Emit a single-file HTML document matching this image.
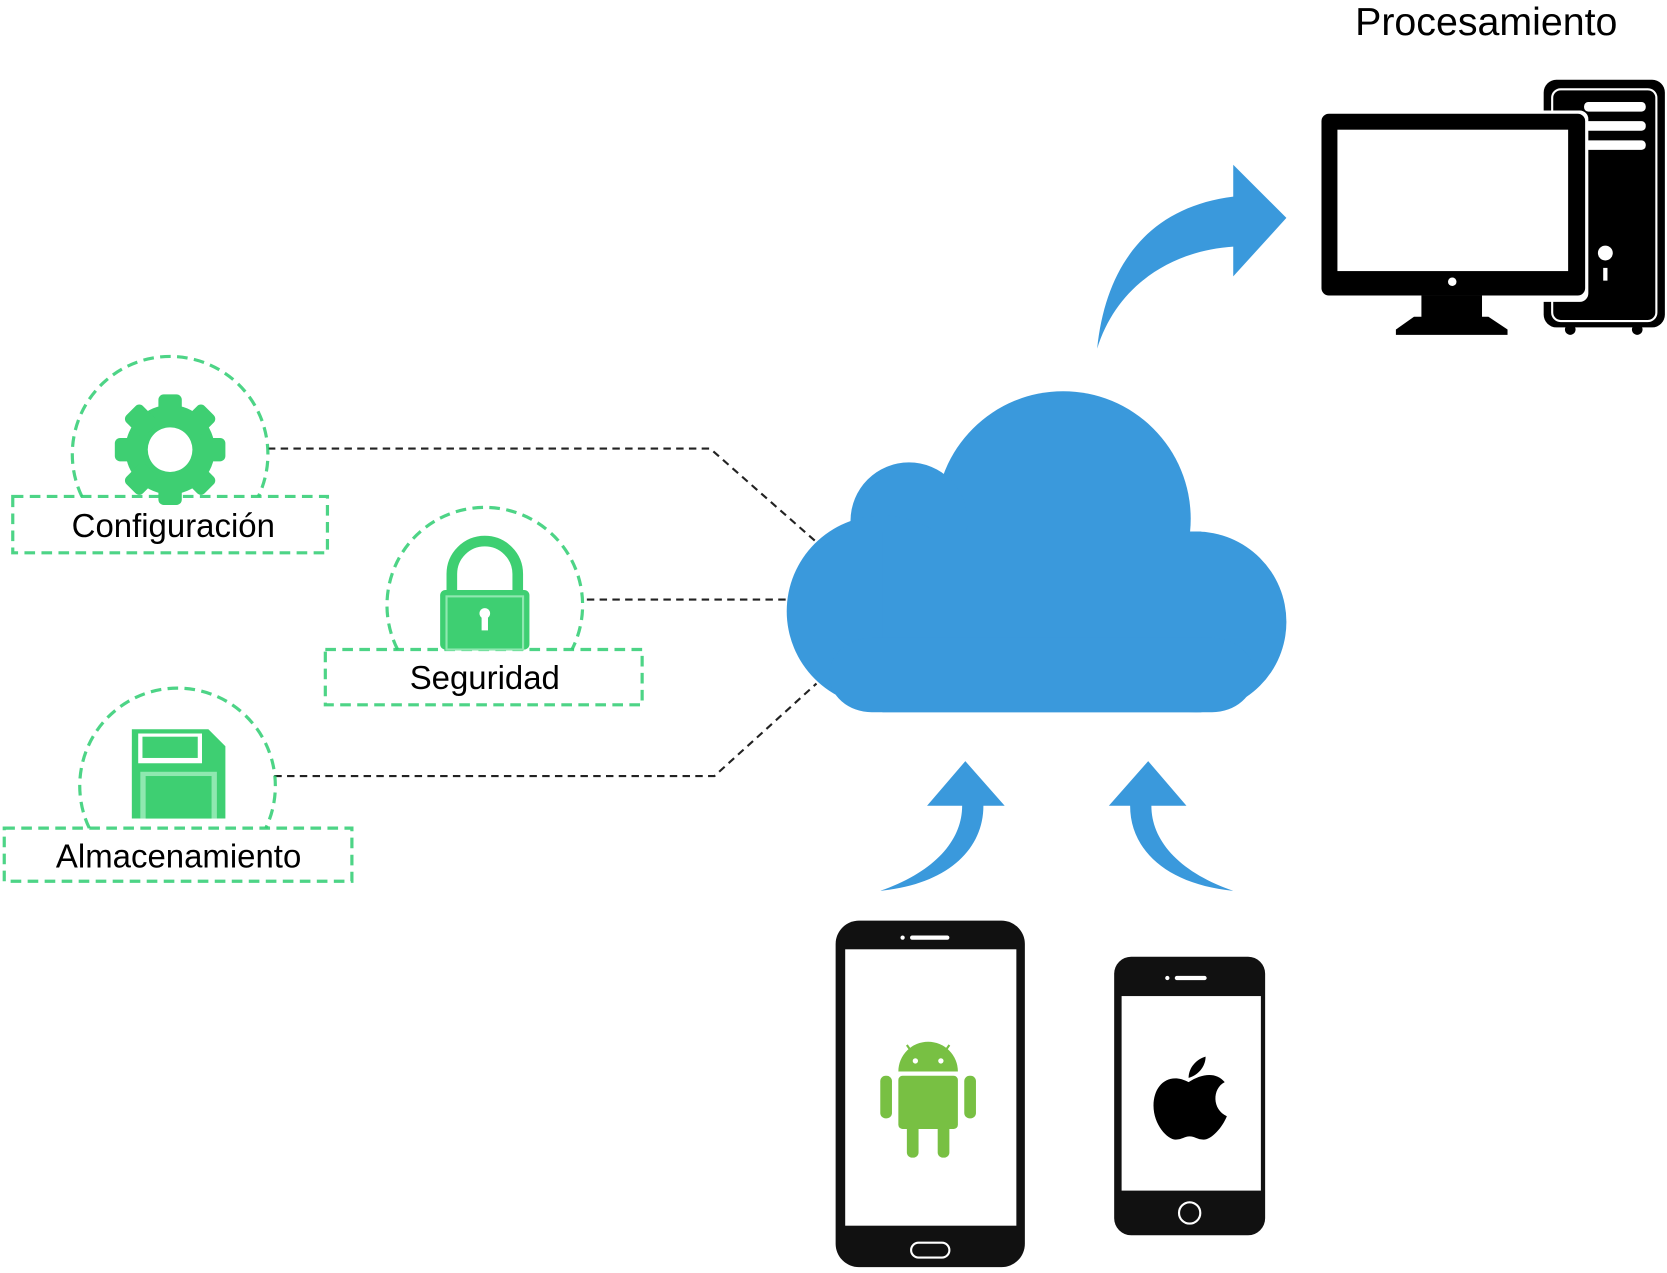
<!DOCTYPE html>
<html><head><meta charset="utf-8"><style>
html,body{margin:0;padding:0;background:#fff;width:1667px;height:1273px;overflow:hidden}
svg{display:block}
text{font-family:"Liberation Sans",sans-serif;fill:#000}
</style></head><body>
<svg width="1667" height="1273" viewBox="0 0 1568 1197.5" preserveAspectRatio="none" xmlns="http://www.w3.org/2000/svg">
<text x="1398" y="33" font-size="37" text-anchor="middle">Procesamiento</text>
<!-- computer -->
<rect x="1452" y="75" width="114" height="233" rx="12" fill="#000"/>
<rect x="1460" y="84" width="98" height="218" rx="8" fill="none" stroke="#fff" stroke-width="2"/>
<rect x="1490" y="96" width="58" height="9" rx="4" fill="#fff"/>
<rect x="1490" y="114" width="58" height="9" rx="4" fill="#fff"/>
<rect x="1490" y="132" width="58" height="9" rx="4" fill="#fff"/>
<circle cx="1510" cy="238" r="7" fill="#fff"/>
<rect x="1508" y="252" width="4" height="12" fill="#fff"/>
<circle cx="1477" cy="310" r="5" fill="#000"/><circle cx="1540" cy="310" r="5" fill="#000"/>
<rect x="1240" y="104" width="254" height="180" rx="8" fill="#fff"/>
<rect x="1243" y="107" width="248" height="171" rx="7" fill="#000"/>
<rect x="1258" y="122" width="217" height="133" fill="#fff"/>
<circle cx="1366" cy="265" r="4" fill="#fff"/>
<rect x="1337" y="278" width="57" height="22" fill="#000"/>
<path d="M1330 298 H1400 L1418 310 V315 H1313 V310 Z" fill="#000"/>
<!-- top arrow -->
<path d="M1032 328 C1040 250 1080 195 1160 185 L1160 155 L1210 205 L1160 260 L1160 232 C1100 236 1050 270 1032 328 Z" fill="#3a99dc"/>
<!-- cloud -->
<g fill="#3a99dc">
<circle cx="1000" cy="488" r="120"/>
<circle cx="855" cy="490" r="55"/>
<circle cx="830" cy="575" r="90"/>
<circle cx="1125" cy="585" r="85"/>
<rect x="830" y="500" width="300" height="170"/>
<rect x="780" y="600" width="400" height="70" rx="40"/>
</g>
<!-- dashed connectors -->
<g fill="none" stroke="#222" stroke-width="2" stroke-dasharray="7,5">
<path d="M252 422 H668 L768 510"/>
<path d="M552 564 H740"/>
<path d="M258 730 H672 L768 643"/>
</g>
<!-- green nodes -->
<g fill="none" stroke="#2ecc71" stroke-opacity="0.85" stroke-width="3" stroke-dasharray="10,6">
<path d="M77 467 A92 92 0 1 1 243 467"/>
<rect x="12" y="467" width="296" height="53"/>
<path d="M374 611 A92 92 0 1 1 538 611"/>
<rect x="306" y="611" width="298" height="52"/>
<path d="M84 779 A92 92 0 1 1 250 779"/>
<rect x="4" y="779" width="327" height="50"/>
</g>
<!-- gear -->
<g fill="#3ecf72">
<circle cx="160" cy="423" r="42"/>
<g id="t"><rect x="149" y="371" width="22" height="26" rx="5"/></g>
<use href="#t" transform="rotate(45 160 423)"/><use href="#t" transform="rotate(90 160 423)"/>
<use href="#t" transform="rotate(135 160 423)"/><use href="#t" transform="rotate(180 160 423)"/>
<use href="#t" transform="rotate(225 160 423)"/><use href="#t" transform="rotate(270 160 423)"/>
<use href="#t" transform="rotate(315 160 423)"/>
</g>
<circle cx="160" cy="423" r="21" fill="#fff"/>
<!-- lock -->
<path d="M425 560 V540 A31 31 0 0 1 487 540 V560" fill="none" stroke="#3ecf72" stroke-width="10"/>
<rect x="414" y="555" width="84" height="56" rx="5" fill="#3ecf72"/>
<rect x="420" y="561" width="72" height="50" fill="none" stroke="#8fe8b0" stroke-width="2"/>
<circle cx="456" cy="577" r="5" fill="#fff"/><rect x="453" y="578" width="6" height="15" fill="#fff"/>
<!-- floppy -->
<path d="M124 686 H196 L212 702 V770 H124 Z" fill="#3ecf72"/>
<rect x="130" y="690" width="60" height="28" fill="#fff"/>
<rect x="134" y="693" width="52" height="20" fill="#3ecf72"/>
<rect x="132" y="726" width="72" height="44" fill="#8fe8b0"/>
<rect x="137" y="730" width="62" height="40" fill="#3ecf72"/>
<text x="163" y="505" font-size="31" text-anchor="middle">Configuración</text>
<text x="456" y="648" font-size="31" text-anchor="middle">Seguridad</text>
<text x="168" y="816" font-size="31" text-anchor="middle">Almacenamiento</text>
<!-- up arrows -->
<path d="M828 838 C880 820 905 790 905 758 L872 758 L908 716 L945 758 L925 758 C925 800 890 832 828 838 Z" fill="#3a99dc"/>
<path d="M1160 838 C1108 820 1083 790 1083 758 L1116 758 L1080 716 L1043 758 L1063 758 C1063 800 1098 832 1160 838 Z" fill="#3a99dc"/>
<!-- android phone -->
<rect x="786" y="866" width="178" height="326" rx="22" fill="#111"/>
<rect x="795" y="893" width="161" height="260" fill="#fff"/>
<rect x="856" y="880" width="37" height="4" rx="2" fill="#fff"/><circle cx="849" cy="882" r="2" fill="#fff"/>
<rect x="857" y="1169" width="36" height="14" rx="7" fill="none" stroke="#fff" stroke-width="2"/>
<g fill="#78c043">
<path d="M845 1008 A28 28 0 0 1 901 1008 Z"/>
<rect x="845" y="1012" width="56" height="50" rx="4"/>
<rect x="828" y="1012" width="11" height="40" rx="5"/><rect x="907" y="1012" width="11" height="40" rx="5"/>
<rect x="853" y="1055" width="11" height="34" rx="5"/><rect x="882" y="1055" width="11" height="34" rx="5"/>
<path d="M853 983 L860 993 M893 983 L886 993" stroke="#78c043" stroke-width="2"/>
</g>
<circle cx="861" cy="998" r="2.5" fill="#fff"/><circle cx="885" cy="998" r="2.5" fill="#fff"/>
<!-- iphone -->
<rect x="1048" y="900" width="142" height="262" rx="16" fill="#111"/>
<rect x="1055" y="937" width="131" height="183" fill="#fff"/>
<rect x="1105" y="918" width="30" height="4" rx="2" fill="#fff"/><circle cx="1098" cy="920" r="2" fill="#fff"/>
<circle cx="1119" cy="1141" r="10" fill="none" stroke="#fff" stroke-width="2"/>
<path d="M1118 1018 C1100 1008 1085 1020 1085 1040 C1085 1058 1098 1072 1106 1072 C1112 1072 1114 1069 1119 1069 C1124 1069 1126 1072 1132 1072 C1140 1072 1150 1060 1154 1050 C1140 1044 1140 1024 1152 1018 C1144 1008 1130 1010 1118 1018 Z" fill="#000"/>
<path d="M1118 1014 C1118 1004 1126 996 1134 994 C1134 1004 1126 1012 1118 1014 Z" fill="#000"/>
</svg>
</body></html>
